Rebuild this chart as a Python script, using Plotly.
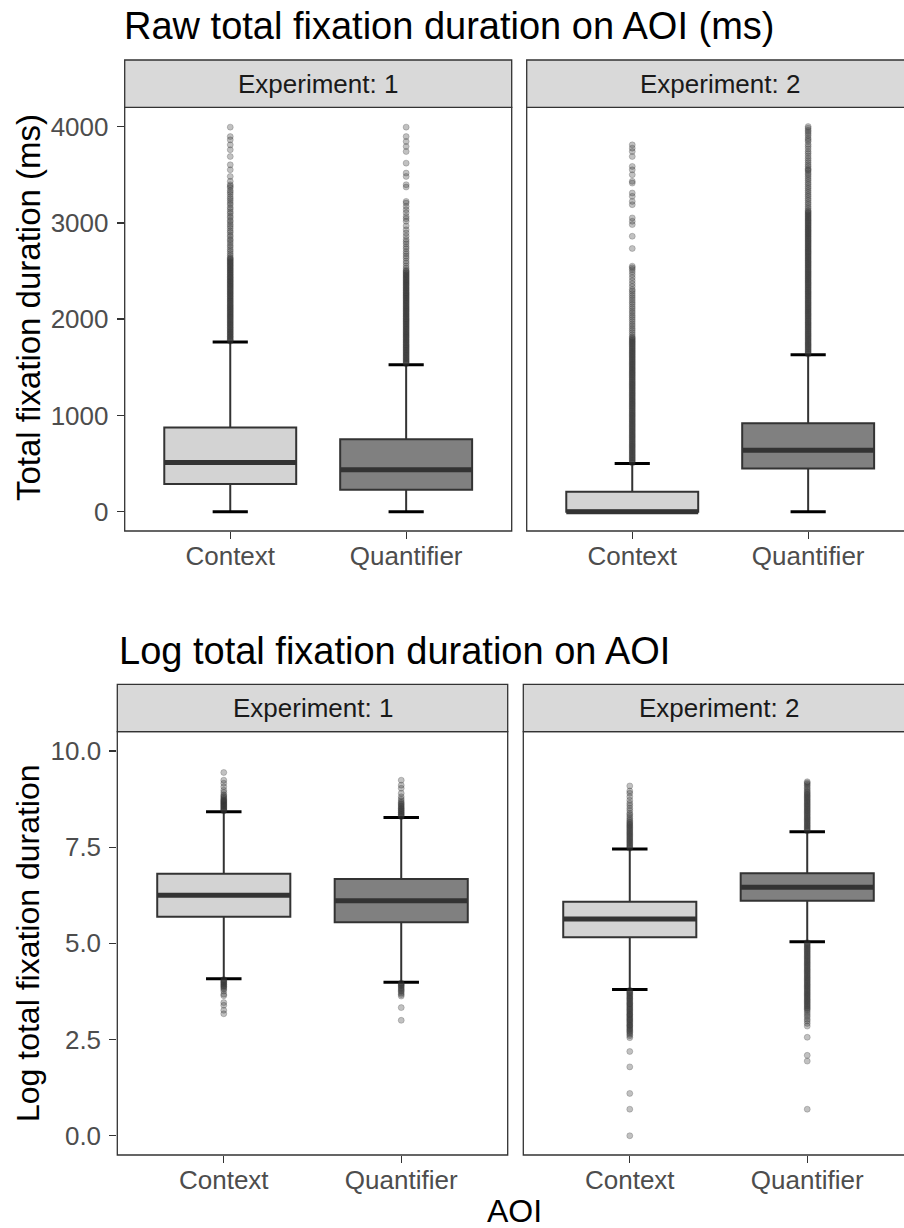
import plotly.graph_objects as go

# ---------------- data ----------------
categories = ["Context", "Quantifier"]
cat_pos = [1, 2]
experiments = ["Experiment: 1", "Experiment: 2"]
fill_colors = ["#d3d3d3", "#808080"]

raw_ticks = [0, 1000, 2000, 3000, 4000]
raw_tick_text = ["0", "1000", "2000", "3000", "4000"]
log_ticks = [0.0, 2.5, 5.0, 7.5, 10.0]
log_tick_text = ["0.0", "2.5", "5.0", "7.5", "10.0"]

# [experiment][category]
raw_lower = [[0, 0], [0, 0]]
raw_q1 = [[287, 228], [0, 450]]
raw_median = [[512, 435], [0, 639]]
raw_q3 = [[875, 753], [207, 919]]
raw_upper = [[1762, 1527], [501, 1631]]

log_lower = [[4.08, 3.99], [3.80, 5.04]]
log_q1 = [[5.69, 5.55], [5.16, 6.11]]
log_median = [[6.25, 6.11], [5.63, 6.46]]
log_q3 = [[6.81, 6.67], [6.08, 6.82]]
log_upper = [[8.42, 8.27], [7.45, 7.90]]

raw_out_e1_context = [
    1771, 1782, 1790, 1803, 1814, 1822, 1835, 1846, 1855, 1867, 1878, 1887, 1899, 1910, 1919, 1931,
    1942, 1951, 1963, 1974, 1984, 1995, 2006, 2016, 2027, 2038, 2048, 2059, 2071, 2080, 2092, 2103,
    2112, 2124, 2135, 2145, 2156, 2167, 2177, 2188, 2199, 2209, 2220, 2232, 2241, 2253, 2264, 2273,
    2285, 2296, 2306, 2317, 2328, 2338, 2349, 2361, 2370, 2382, 2393, 2402, 2414, 2426, 2435, 2446,
    2458, 2467, 2479, 2490, 2500, 2511, 2522, 2532, 2544, 2555, 2564, 2576, 2587, 2597, 2608, 2620,
    2629, 2641, 2662, 2681, 2705, 2724, 2748, 2767, 2791, 2813, 2830, 2856, 2874, 2901, 2918, 2943,
    2966, 2985, 3010, 3027, 3054, 3071, 3098, 3115, 3142, 3160, 3187, 3206, 3230, 3251, 3270, 3296,
    3318, 3337, 3364, 3381, 3396, 3431, 3482, 3551, 3603, 3689, 3759, 3810, 3862, 3896, 3994]
raw_out_e1_quantifier = [
    1536, 1546, 1557, 1568, 1578, 1590, 1600, 1611, 1622, 1632, 1644, 1654, 1665, 1676, 1686, 1698,
    1708, 1719, 1730, 1740, 1752, 1762, 1773, 1784, 1794, 1806, 1816, 1827, 1838, 1848, 1860, 1870,
    1881, 1892, 1902, 1914, 1924, 1935, 1946, 1956, 1968, 1978, 1989, 2000, 2010, 2022, 2032, 2043,
    2054, 2064, 2076, 2086, 2097, 2108, 2118, 2130, 2140, 2151, 2162, 2172, 2184, 2194, 2205, 2216,
    2226, 2238, 2248, 2259, 2270, 2280, 2292, 2302, 2313, 2324, 2334, 2346, 2356, 2367, 2378, 2388,
    2400, 2410, 2421, 2432, 2442, 2454, 2464, 2475, 2486, 2497, 2508, 2529, 2553, 2581, 2604, 2633,
    2655, 2680, 2702, 2731, 2753, 2781, 2805, 2828, 2862, 2895, 2928, 2968, 3016, 3043, 3066, 3104,
    3136, 3171, 3205, 3223, 3372, 3396, 3482, 3517, 3620, 3741, 3793, 3845, 3896, 3994]
raw_out_e2_context = [
    506, 517, 529, 540, 551, 563, 574, 586, 597, 609, 620, 632, 643, 655, 666, 678, 689, 701, 712,
    724, 735, 747, 758, 770, 781, 793, 804, 816, 827, 839, 850, 862, 873, 885, 896, 908, 919, 931,
    942, 954, 965, 977, 988, 1000, 1011, 1023, 1034, 1046, 1057, 1069, 1080, 1092, 1103, 1115, 1126,
    1138, 1149, 1161, 1172, 1184, 1195, 1207, 1218, 1230, 1241, 1253, 1264, 1276, 1287, 1299, 1310,
    1322, 1333, 1345, 1356, 1368, 1379, 1391, 1402, 1414, 1425, 1437, 1448, 1460, 1471, 1483, 1494,
    1506, 1517, 1529, 1540, 1552, 1563, 1575, 1586, 1598, 1609, 1621, 1632, 1644, 1655, 1667, 1678,
    1690, 1701, 1713, 1724, 1736, 1747, 1759, 1770, 1782, 1793, 1805, 1816, 1838, 1861, 1884, 1905,
    1929, 1950, 1974, 1996, 2019, 2040, 2064, 2085, 2109, 2130, 2154, 2176, 2199, 2221, 2244, 2266,
    2290, 2308, 2339, 2368, 2399, 2431, 2462, 2490, 2515, 2533, 2550, 2734, 2861, 2982, 3016, 3051,
    3189, 3223, 3275, 3310, 3413, 3431, 3500, 3551, 3586, 3689, 3741, 3776, 3810]
raw_out_e2_quantifier = [
    1636, 1647, 1659, 1670, 1682, 1693, 1705, 1716, 1728, 1739, 1751, 1762, 1774, 1785, 1797, 1808,
    1820, 1831, 1843, 1854, 1866, 1877, 1889, 1900, 1912, 1923, 1935, 1946, 1958, 1969, 1981, 1992,
    2004, 2015, 2027, 2038, 2050, 2061, 2073, 2084, 2096, 2107, 2119, 2130, 2142, 2153, 2165, 2176,
    2188, 2199, 2211, 2222, 2234, 2245, 2257, 2268, 2280, 2291, 2303, 2314, 2326, 2337, 2349, 2360,
    2372, 2383, 2395, 2406, 2418, 2429, 2441, 2452, 2464, 2475, 2487, 2498, 2510, 2521, 2533, 2544,
    2556, 2567, 2579, 2590, 2602, 2613, 2625, 2636, 2648, 2659, 2671, 2682, 2694, 2705, 2717, 2728,
    2740, 2751, 2763, 2774, 2786, 2797, 2809, 2820, 2832, 2843, 2855, 2866, 2878, 2889, 2901, 2912,
    2924, 2935, 2947, 2958, 2970, 2981, 2993, 3004, 3016, 3027, 3039, 3050, 3062, 3073, 3085, 3096,
    3108, 3119, 3131, 3152, 3171, 3193, 3212, 3234, 3253, 3275, 3294, 3316, 3335, 3357, 3376, 3398,
    3417, 3439, 3458, 3480, 3500, 3517, 3538, 3551, 3563, 3585, 3604, 3626, 3648, 3670, 3695, 3720,
    3741, 3768, 3793, 3815, 3845, 3862, 3880, 3905, 3925, 3945, 3962, 3983, 4000]

log_out_e1_context = [
    8.44, 8.46, 8.48, 8.50, 8.52, 8.54, 8.56, 8.58, 8.60, 8.62, 8.64, 8.66, 8.68, 8.70, 8.72, 8.74,
    8.77, 8.80, 8.83, 8.86, 8.92, 8.98, 9.07, 9.16, 9.24, 9.44,
    4.06, 4.04, 4.01, 3.99, 3.97, 3.94, 3.92, 3.89, 3.87, 3.84, 3.81, 3.76, 3.68, 3.64, 3.46, 3.39,
    3.26, 3.17]
log_out_e1_quantifier = [
    8.29, 8.31, 8.34, 8.36, 8.39, 8.41, 8.44, 8.46, 8.49, 8.51, 8.54, 8.57, 8.60, 8.63, 8.66, 8.70,
    8.75, 8.81, 8.90, 9.03, 9.11, 9.24,
    3.97, 3.95, 3.92, 3.90, 3.87, 3.84, 3.81, 3.78, 3.75, 3.71, 3.67, 3.63, 3.33, 3.00]
log_out_e2_context = [
    7.47, 7.50, 7.53, 7.56, 7.59, 7.62, 7.65, 7.68, 7.71, 7.74, 7.77, 7.80, 7.83, 7.86, 7.89, 7.92,
    7.95, 7.98, 8.01, 8.04, 8.07, 8.10, 8.13, 8.16, 8.20, 8.24, 8.29, 8.34, 8.38, 8.45, 8.51, 8.58,
    8.64, 8.72, 8.81, 8.90, 8.96, 9.09,
    3.78, 3.75, 3.72, 3.70, 3.67, 3.64, 3.61, 3.58, 3.56, 3.53, 3.50, 3.47, 3.44, 3.42, 3.39, 3.36,
    3.33, 3.30, 3.28, 3.25, 3.22, 3.19, 3.16, 3.14, 3.11, 3.08, 3.05, 3.02, 3.00, 2.97, 2.94, 2.91,
    2.88, 2.86, 2.83, 2.80, 2.77, 2.74, 2.71, 2.68, 2.64, 2.60, 2.55, 2.19, 1.79, 1.10, 0.69, 0.00]
log_out_e2_quantifier = [
    7.92, 7.95, 7.98, 8.01, 8.04, 8.07, 8.10, 8.13, 8.16, 8.19, 8.22, 8.25, 8.28, 8.31, 8.34, 8.37,
    8.40, 8.43, 8.46, 8.49, 8.52, 8.55, 8.58, 8.61, 8.64, 8.67, 8.70, 8.73, 8.76, 8.79, 8.82, 8.85,
    8.88, 8.91, 8.94, 8.98, 9.02, 9.06, 9.10, 9.14, 9.17, 9.20,
    5.02, 4.99, 4.96, 4.93, 4.90, 4.87, 4.84, 4.81, 4.78, 4.75, 4.72, 4.69, 4.66, 4.63, 4.60, 4.57,
    4.54, 4.51, 4.48, 4.45, 4.42, 4.39, 4.36, 4.33, 4.30, 4.27, 4.24, 4.21, 4.18, 4.15, 4.12, 4.09,
    4.06, 4.03, 4.00, 3.97, 3.94, 3.91, 3.88, 3.85, 3.82, 3.79, 3.76, 3.73, 3.70, 3.67, 3.64, 3.61,
    3.58, 3.55, 3.52, 3.49, 3.46, 3.43, 3.40, 3.37, 3.34, 3.31, 3.28, 3.24, 3.19, 3.14, 3.09, 3.03,
    2.98, 2.92, 2.85, 2.56, 2.09, 1.94, 0.69]

raw_outliers = [[raw_out_e1_context, raw_out_e1_quantifier],
                [raw_out_e2_context, raw_out_e2_quantifier]]
log_outliers = [[log_out_e1_context, log_out_e1_quantifier],
                [log_out_e2_context, log_out_e2_quantifier]]

# ---------------- layout geometry (pixels) ----------------
W, H = 904, 1228
FONT = "Liberation Sans, Arial, Helvetica, sans-serif"


def px(x):
    return x / W


def py(y):
    return 1 - y / H


# panel boxes: (x0, x1_visible, x1_full, ytop, ybottom)
panels = {
    "top1": (124.7, 511.7, 511.7, 107.3, 531.0),
    "top2": (526.7, 904.0, 913.7, 107.3, 531.0),
    "bot1": (117.3, 507.7, 507.7, 731.7, 1155.0),
    "bot2": (523.3, 904.0, 913.7, 731.7, 1155.0),
}
strip_h = 47.3

fig = go.Figure()

BOX_HALF = 0.375
CAP_HALF = 0.1
out_marker = dict(size=6, color="rgba(51,51,51,0.3)",
                  line=dict(width=0.8, color="rgba(51,51,51,0.3)"))

rows = [
    ("top", raw_lower, raw_q1, raw_median, raw_q3, raw_upper, raw_outliers),
    ("bot", log_lower, log_q1, log_median, log_q3, log_upper, log_outliers),
]
axis_ids = {("top", 0): ("x", "y"), ("top", 1): ("x2", "y2"),
            ("bot", 0): ("x3", "y3"), ("bot", 1): ("x4", "y4")}

for row, lo, q1, med, q3, up, outs in rows:
    for e in range(2):
        xa, ya = axis_ids[(row, e)]
        for c in range(2):
            xc = cat_pos[c]
            # whisker caps (errorbar layer)
            fig.add_trace(go.Scatter(
                x=[xc - CAP_HALF, xc + CAP_HALF, None, xc - CAP_HALF, xc + CAP_HALF],
                y=[up[e][c], up[e][c], None, lo[e][c], lo[e][c]],
                mode="lines", line=dict(color="#000000", width=3),
                xaxis=xa, yaxis=ya, showlegend=False, hoverinfo="skip"))
            # box
            fig.add_trace(go.Box(
                x=[xc], q1=[q1[e][c]], median=[med[e][c]], q3=[q3[e][c]],
                lowerfence=[lo[e][c]], upperfence=[up[e][c]],
                width=2 * BOX_HALF, whiskerwidth=0, boxpoints=False,
                fillcolor=fill_colors[c], line=dict(color="#333333", width=2),
                xaxis=xa, yaxis=ya, showlegend=False, hoverinfo="skip"))
            # outliers
            fig.add_trace(go.Scatter(
                x=[xc] * len(outs[e][c]), y=outs[e][c], mode="markers",
                marker=out_marker, xaxis=xa, yaxis=ya,
                showlegend=False, hoverinfo="skip"))
            # median (fattened)
            fig.add_trace(go.Scatter(
                x=[xc - BOX_HALF, xc + BOX_HALF], y=[med[e][c], med[e][c]],
                mode="lines", line=dict(color="#333333", width=5),
                xaxis=xa, yaxis=ya, showlegend=False, hoverinfo="skip"))


def x_range(key):
    x0, x1v, x1f, _, _ = panels[key]
    return [0.4, 0.4 + (x1v - x0) * 2.2 / (x1f - x0)]


tickfont = dict(family=FONT, size=26, color="#4d4d4d")
common_x = dict(tickvals=cat_pos, ticktext=categories, ticks="outside", ticklen=7,
                tickwidth=1.3, tickcolor="#333333", tickfont=tickfont,
                showgrid=False, zeroline=False, showline=False, automargin=False,
                fixedrange=True, ticklabelstandoff=-5)
common_y = dict(showgrid=False, zeroline=False, showline=False, automargin=False,
                tickcolor="#333333", tickwidth=1.3, ticklen=7, tickfont=tickfont,
                fixedrange=True)

layout_axes = {}
for key, (xa, ya) in zip(["top1", "top2", "bot1", "bot2"],
                         [("x", "y"), ("x2", "y2"), ("x3", "y3"), ("x4", "y4")]):
    x0, x1v, x1f, yt, yb = panels[key]
    xname = "xaxis" if xa == "x" else "xaxis" + xa[1:]
    yname = "yaxis" if ya == "y" else "yaxis" + ya[1:]
    layout_axes[xname] = dict(common_x, domain=[px(x0), px(x1v)], range=x_range(key),
                              anchor=ya)
    is_top = key.startswith("top")
    first = key.endswith("1")
    yd = dict(common_y, domain=[py(yb), py(yt)],
              range=[-200, 4200] if is_top else [-0.5, 10.5], anchor=xa)
    if first:
        yd.update(tickvals=raw_ticks if is_top else log_ticks,
                  ticktext=raw_tick_text if is_top else log_tick_text,
                  ticks="outside", ticklabelstandoff=3)
    else:
        yd.update(showticklabels=False, ticks="")
    layout_axes[yname] = yd

shapes = []
annotations = []
for key, (x0, x1v, x1f, yt, yb) in panels.items():
    # panel border
    shapes.append(dict(type="rect", xref="paper", yref="paper",
                       x0=px(x0), x1=px(x1f), y0=py(yb), y1=py(yt),
                       line=dict(color="#333333", width=1.3), fillcolor="rgba(0,0,0,0)",
                       layer="above"))
    # strip
    shapes.append(dict(type="rect", xref="paper", yref="paper",
                       x0=px(x0), x1=px(x1f), y0=py(yt), y1=py(yt - strip_h),
                       line=dict(color="#333333", width=1.3), fillcolor="#d9d9d9",
                       layer="above"))
    label = experiments[0] if key.endswith("1") else experiments[1]
    annotations.append(dict(text=label, xref="paper", yref="paper",
                            x=px((x0 + x1f) / 2), y=py(yt - strip_h / 2),
                            xanchor="center", yanchor="middle", showarrow=False,
                            font=dict(family=FONT, size=26, color="#1a1a1a")))

annotations += [
    dict(text="Raw total fixation duration on AOI (ms)", xref="paper", yref="paper",
         x=px(122), y=py(26), xanchor="left", yanchor="middle", showarrow=False,
         font=dict(family=FONT, size=38, color="#000000")),
    dict(text="Log total fixation duration on AOI", xref="paper", yref="paper",
         x=px(117), y=py(651), xanchor="left", yanchor="middle", showarrow=False,
         font=dict(family=FONT, size=38, color="#000000")),
    dict(text="Total fixation duration (ms)", xref="paper", yref="paper",
         x=px(28), y=py(308), xanchor="center", yanchor="middle", showarrow=False,
         textangle=-90, font=dict(family=FONT, size=33, color="#000000")),
    dict(text="Log total fixation duration", xref="paper", yref="paper",
         x=px(28), y=py(943), xanchor="center", yanchor="middle", showarrow=False,
         textangle=-90, font=dict(family=FONT, size=32, color="#000000")),
    dict(text="AOI", xref="paper", yref="paper",
         x=px(514), y=py(1211), xanchor="center", yanchor="middle", showarrow=False,
         font=dict(family=FONT, size=32, color="#000000")),
]

fig.update_layout(
    width=W, height=H, margin=dict(l=0, r=0, t=0, b=0),
    paper_bgcolor="#ffffff", plot_bgcolor="#ffffff",
    showlegend=False, boxmode="overlay",
    font=dict(family=FONT),
    shapes=shapes, annotations=annotations,
    **layout_axes,
)

fig.write_html("out.html",
               config={"displayModeBar": False, "staticPlot": True},
               post_script="document.body.style.margin='0px';"
                           "document.body.style.overflow='hidden';")
